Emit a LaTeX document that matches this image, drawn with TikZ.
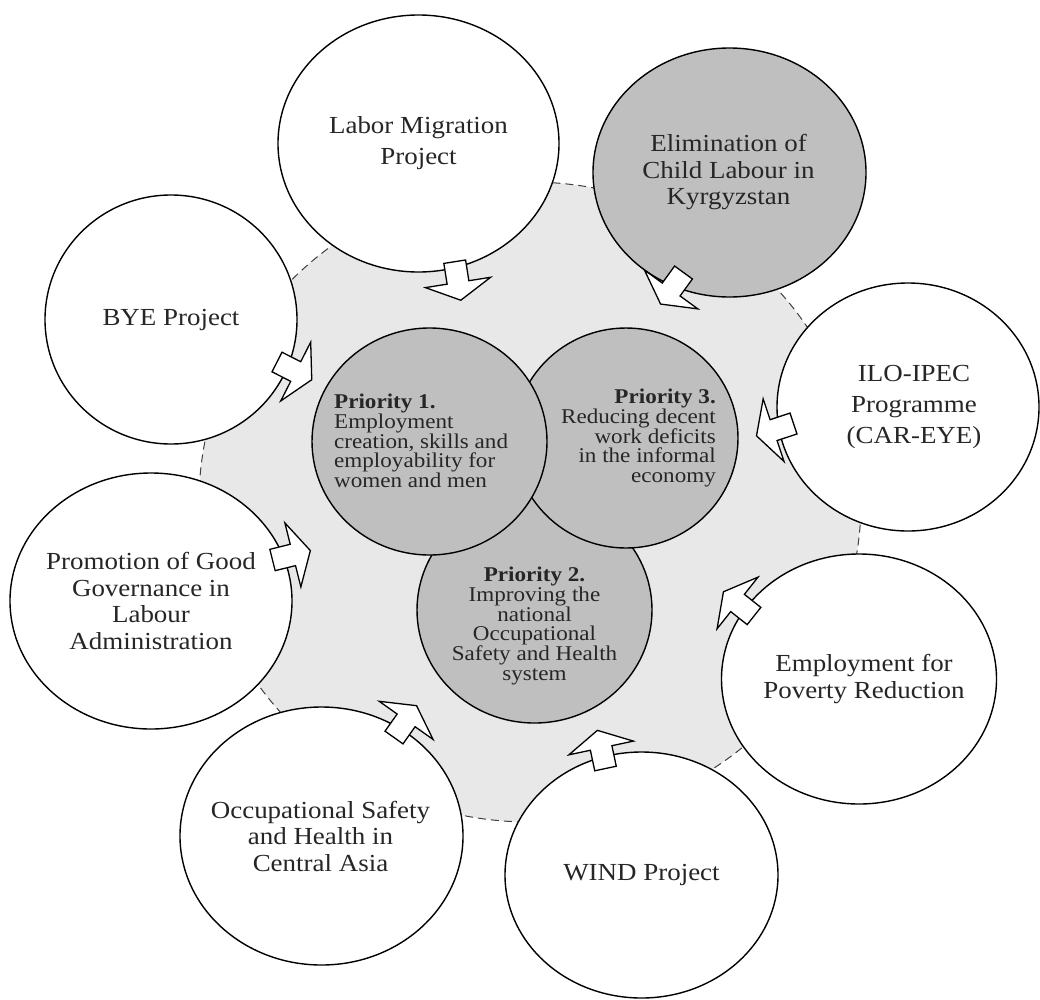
\documentclass[tikz,border=0pt]{standalone}
\usepackage{fontspec}
\setmainfont{Liberation Serif}
\newfontfamily\outerfont{Liberation Serif}[FakeStretch=1.1]
\newfontfamily\innerfont{Liberation Serif}[FakeStretch=1.1]
\usetikzlibrary{shapes.geometric,calc}
\definecolor{hubgray}{gray}{0.91}
\definecolor{prigray}{gray}{0.75}
\definecolor{dashgray}{gray}{0.25}
\tikzset{
  proj/.style={ellipse, draw=black, line width=1.4pt, fill=white, inner sep=0pt},
  projdark/.style={proj, fill=prigray},
  prio/.style={ellipse, draw=black, line width=1.4pt, fill=prigray, inner sep=0pt},
  ptext/.style={inner sep=0pt, align=center, text=black!85, font=\outerfont\fontsize{24.5}{26.5}\selectfont},
  ptextwide/.style={ptext, font=\outerfont\fontsize{24.5}{31}\selectfont},
  itext/.style={inner sep=0pt, text=black!85, font=\innerfont\fontsize{21}{19.7}\selectfont},
  arrowshape/.style={draw=black, line width=1.3pt, fill=white, line join=miter},
  blockarrow/.pic={
    \draw[arrowshape] (0pt,-11pt) -- (21pt,-11pt) -- (21pt,-33pt) -- (39pt,0pt)
      -- (21pt,33pt) -- (21pt,11pt) -- (0pt,11pt) -- cycle;
  }
}
\begin{document}
\begin{tikzpicture}[x=1pt,y=-1pt]
\useasboundingbox (0,0) rectangle (1040,999);
\fill[white] (0,0) rectangle (1040,999);
% hub
\node[ellipse, draw=dashgray, line width=1pt, dash pattern=on 8pt off 5pt, fill=hubgray,
      minimum width=662pt, minimum height=640pt, inner sep=0pt] (hub) at (530,502) {};
% project circles
\node[proj, minimum width=281pt, minimum height=257pt] (lm) at (418.5,143.5) {};
\node[projdark, minimum width=273pt, minimum height=249pt] (elim) at (729.5,172.5) {};
\node[proj, minimum width=252pt, minimum height=249pt] (bye) at (171,319.5) {};
\node[proj, minimum width=262pt, minimum height=248pt] (ilo) at (908,407) {};
\node[proj, minimum width=282pt, minimum height=256pt] (prom) at (151,601) {};
\node[proj, minimum width=275pt, minimum height=250pt] (epr) at (859,679) {};
\node[proj, minimum width=283pt, minimum height=258pt] (osh) at (321.5,836) {};
\node[proj, minimum width=273pt, minimum height=246pt] (wind) at (641.5,875) {};
% priorities
\node[prio, minimum width=235pt, minimum height=226pt] (p2) at (534.5,610) {};
\node[prio, minimum width=224pt, minimum height=220pt] (p3) at (626,438) {};
\node[prio, minimum width=235pt, minimum height=227pt] (p1) at (429.5,441.5) {};
% arrows
\pic[rotate=-81] at ($(lm)+(36.2,118.2)$) {blockarrow};
\pic[rotate=-126] at ($(elim)+(-46,100)$) {blockarrow};
\pic[rotate=-27] at ($(bye)+(106,42.5)$) {blockarrow};
\pic[rotate=198.4] at ($(ilo)+(-114.5,16.5)$) {blockarrow};
\pic[rotate=14] at ($(prom)+(121.5,-41)$) {blockarrow};
\pic[rotate=141.6] at ($(epr)+(-105,-63)$) {blockarrow};
\pic[rotate=102] at ($(wind)+(-36,-106.5)$) {blockarrow};
\pic[rotate=54.7] at ($(osh)+(72.5,-98.5)$) {blockarrow};
% texts
\node[ptextwide] (tlm) at (lm) {Labor Migration\\Project};
\node[ptext] (telim) at ($(elim)+(-1,0)$) {Elimination of\\Child Labour in\\Kyrgyzstan};
\node[ptext] (tbye) at (bye) {BYE Project};
\node[ptextwide] (tilo) at ($(ilo)+(6,0)$) {ILO-IPEC\\Programme\\(CAR-EYE)};
\node[ptext] (tprom) at (prom) {Promotion of Good\\Governance in\\Labour\\Administration};
\node[ptext] (tepr) at ($(epr)+(5,0)$) {Employment for\\Poverty Reduction};
\node[ptext] (tosh) at ($(osh)+(-1,0)$) {Occupational Safety\\and Health in\\Central Asia};
\node[ptext] (twind) at (wind) {WIND Project};
\node[itext, align=left, anchor=west] (tp1) at (334,441) {\textbf{Priority 1.}\\Employment\\creation, skills and\\employability for\\women and men};
\node[itext, align=right, anchor=east] (tp3) at (716,438) {\textbf{Priority 3.}\\Reducing decent\\work deficits\\in the informal\\economy};
\node[itext, align=center] (tp2) at (534.5,626) {\textbf{Priority 2.}\\Improving the\\national\\Occupational\\Safety and Health\\system};
\end{tikzpicture}
\end{document}
